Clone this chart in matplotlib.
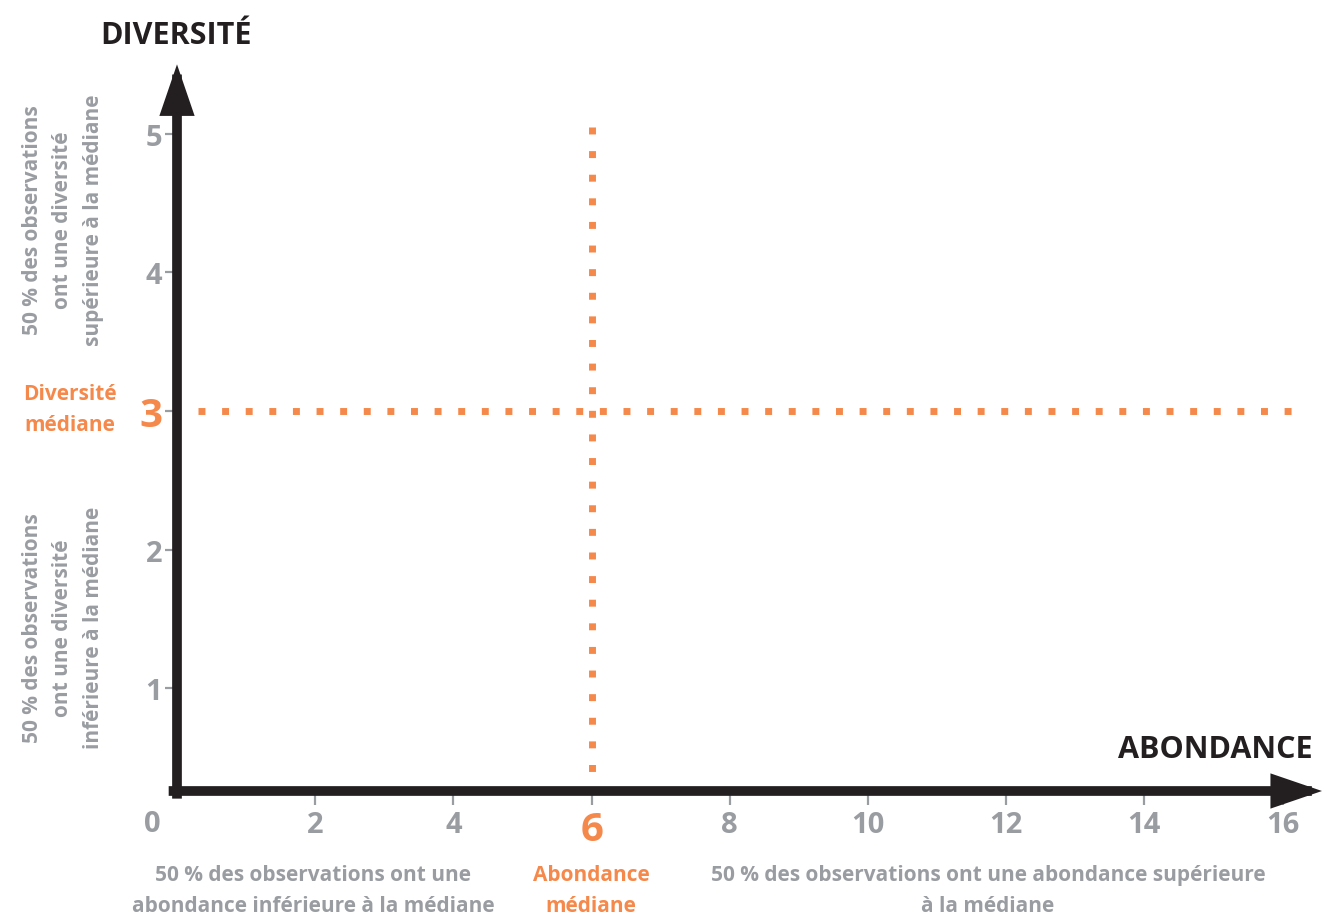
import numpy as np
import matplotlib
matplotlib.use("Agg")
import matplotlib.pyplot as plt

plt.rcParams['font.family'] = ['Open Sans', 'DejaVu Sans']

# data
x_ticks = [2, 4, 6, 8, 10, 12, 14, 16]
y_ticks = [1, 2, 3, 4, 5]
median_abondance = 6
median_diversite = 3
x_max = 16.57
y_max = 5.5
y_axis_at = 0.26

ORANGE = '#f5894c'
GREY = '#999ca1'
BLACK = '#231f20'

W, H = 1327, 920
fig = plt.figure(figsize=(W / 100, H / 100), dpi=100)

def px(x, y):
    return x / W, 1 - y / H

# axes placed so that x=0 -> 177px, y=y_axis_at -> 792px
left, bottom = px(177, 792)
right, top = px(177 + 16.6 * 69.1, 51.5)
ax = fig.add_axes([left, bottom, right - left, top - bottom])
ax.set_xlim(0, 16.6)
ax.set_ylim(y_axis_at, 5.6)
for s in ax.spines.values():
    s.set_visible(False)

ax.set_xticks(x_ticks)
ax.set_xticklabels([str(v) for v in x_ticks])
ax.set_yticks(y_ticks)
ax.set_yticklabels([str(v) for v in y_ticks])
ax.tick_params(axis='x', direction='out', length=10, width=1.6, color=GREY,
               labelcolor=GREY, labelsize=21, pad=4)
ax.tick_params(axis='y', direction='out', length=8.5, width=1.6, color=GREY,
               labelcolor=GREY, labelsize=21, pad=2)
for lab in ax.get_xticklabels() + ax.get_yticklabels():
    lab.set_fontweight('bold')
for lab, v in zip(ax.get_xticklabels(), x_ticks):
    if v == median_abondance:
        lab.set_color(ORANGE)
        lab.set_fontsize(29)
for lab, v in zip(ax.get_yticklabels(), y_ticks):
    if v == median_diversite:
        lab.set_color(ORANGE)
        lab.set_fontsize(29)

# median lines (vertical one drawn from the top down so it starts on a dot)
dots = (0, (1, 2.4))
ax.plot([0.3, 16.15], [median_diversite, median_diversite], color=ORANGE,
        lw=5, linestyle=dots, dash_capstyle='butt', zorder=2)
ax.plot([median_abondance, median_abondance], [5.05, y_axis_at + 0.04], color=ORANGE,
        lw=5, linestyle=dots, dash_capstyle='butt', zorder=2)

# axes arrows
arrow = dict(arrowstyle='-|>,head_length=1.9,head_width=0.65', lw=7, color=BLACK,
             shrinkA=0, shrinkB=0, mutation_scale=12, joinstyle='miter',
             capstyle='projecting')
ax.annotate('', xy=(x_max, y_axis_at), xytext=(-0.05, y_axis_at),
            arrowprops=arrow, annotation_clip=False, zorder=4)
ax.annotate('', xy=(0, y_max), xytext=(0, y_axis_at - 0.02),
            arrowprops=arrow, annotation_clip=False, zorder=4)

ax.annotate('0', xy=(0, y_axis_at), xytext=(-25, -33), textcoords='offset pixels',
            ha='center', va='center', color=GREY, fontsize=21, fontweight='bold',
            annotation_clip=False)

# axis titles
fig.text(*px(176, 36), 'DIVERSITÉ', ha='center', va='center', fontsize=22,
         fontweight='bold', color=BLACK)
fig.text(*px(1313, 750), 'ABONDANCE', ha='right', va='center', fontsize=22,
         fontweight='bold', color=BLACK)

# side notes
note = dict(fontsize=15, fontweight='bold', linespacing=1.6,
            ha='center', va='center', multialignment='center')
fig.text(*px(63, 220), '50 % des observations\nont une diversité\nsupérieure à la médiane',
         rotation=90, color=GREY, **note)
fig.text(*px(63, 628), '50 % des observations\nont une diversité\ninférieure à la médiane',
         rotation=90, color=GREY, **note)
fig.text(*px(70, 410), 'Diversité\nmédiane', color=ORANGE, **note)
fig.text(*px(313, 891), '50 % des observations ont une\nabondance inférieure à la médiane',
         color=GREY, **note)
fig.text(*px(591, 891), 'Abondance\nmédiane', color=ORANGE, **note)
fig.text(*px(988, 891), '50 % des observations ont une abondance supérieure\nà la médiane',
         color=GREY, **note)

fig.savefig('out.png', dpi=100)
